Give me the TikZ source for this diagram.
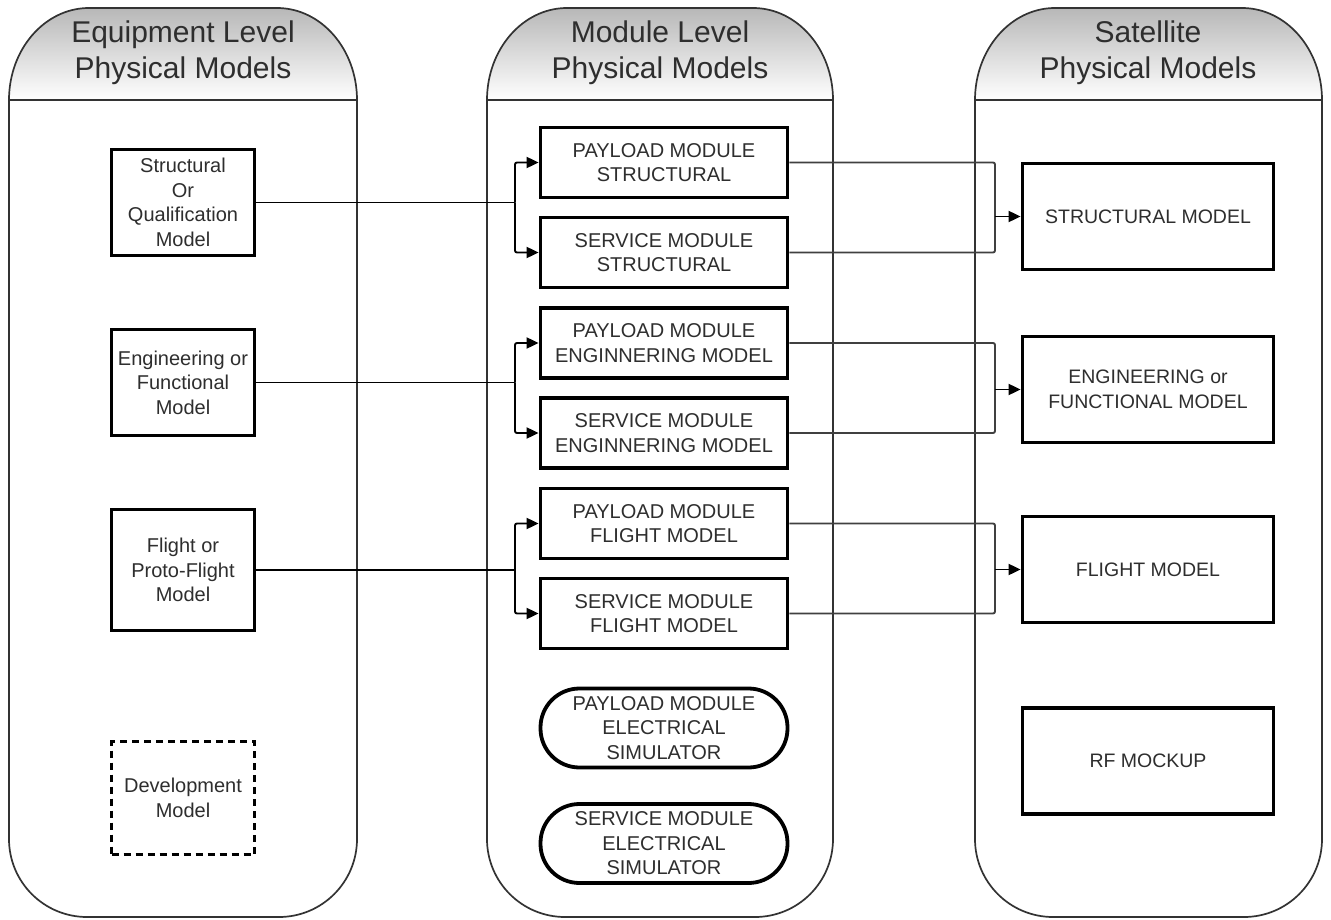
\documentclass[tikz,border=0pt]{standalone}
\usepackage{fontspec}
\setmainfont{Liberation Sans}
\usetikzlibrary{arrows.meta}
\definecolor{txt}{HTML}{2E2E2E}
\definecolor{laneline}{HTML}{333333}
\definecolor{wire}{HTML}{404040}

% a lane: rounded outline, shaded header and a header rule
\newcommand{\lanepath}[2]{%
  (#1,100) arc[start angle=180,end angle=270,x radius=80,y radius=92]
  -- (#2-80,8) arc[start angle=270,end angle=360,x radius=80,y radius=92]
  -- (#2,839) arc[start angle=0,end angle=90,radius=78]
  -- (#1+78,917) arc[start angle=90,end angle=180,radius=78] -- cycle}
\newcommand{\laneheadpath}[2]{%
  (#1,100) arc[start angle=180,end angle=270,x radius=80,y radius=92]
  -- (#2-80,8) arc[start angle=270,end angle=360,x radius=80,y radius=92] -- cycle}

\begin{document}
\begin{tikzpicture}[x=1pt,y=-1pt,
  lanetitle/.style={align=center,text=txt,font=\fontsize{30}{36}\selectfont,inner sep=0pt},
  lanestroke/.style={draw=laneline,line width=1.7pt},
  box/.style={draw=black,fill=white,line width=3.8pt,align=center,text=txt,
    font=\fontsize{20}{24.5}\selectfont,inner sep=0pt},
  eqbox/.style={box,minimum width=143pt,minimum height=106pt},
  modbox/.style={box,minimum width=247pt,minimum height=70pt},
  satbox/.style={box,minimum width=251pt,minimum height=106pt,font=\fontsize{19.5}{24.5}\selectfont},
  devbox/.style={eqbox,dash pattern=on 7pt off 5pt,minimum height=113pt},
  simbox/.style={modbox,rounded corners=39pt,minimum height=79pt},
  conn/.style={draw=black,line width=1.9pt,rounded corners=2pt},
  rconn/.style={draw=wire,line width=1.9pt,rounded corners=2pt},
  tip/.style={-{Triangle[length=12pt,width=11pt]}}]

\useasboundingbox (0,0) rectangle (1331,920);

% lanes
\foreach \xa/\xb in {9/357, 487/833, 975/1322}{
  \fill[white] \lanepath{\xa}{\xb};
  \shade[top color=black!28,bottom color=white] \laneheadpath{\xa}{\xb};
  \draw[lanestroke] \lanepath{\xa}{\xb};
  \draw[lanestroke] (\xa,100) -- (\xb,100);
}
\node[lanetitle] (t1) at (183,53) {Equipment Level\\Physical Models};
\node[lanetitle] (t2) at (660,53) {Module Level\\Physical Models};
\node[lanetitle] (t3) at (1148,53) {Satellite\\Physical Models};

% equipment level
\node[eqbox] (eqsq) at (183,202.5) {Structural\\Or\\Qualification\\Model};
\node[eqbox] (eqef) at (183,382.5) {Engineering or\\Functional\\Model};
\node[eqbox,minimum height=121pt] (eqfp) at (183,570) {Flight or\\Proto-Flight\\Model};
\node[devbox] (eqdev) at (183,798) {Development\\Model};

% module level
\node[modbox] (psm) at (664,162.5) {PAYLOAD MODULE\\STRUCTURAL};
\node[modbox] (ssm) at (664,252.5) {SERVICE MODULE\\STRUCTURAL};
\node[modbox] (pem) at (664,343) {PAYLOAD MODULE\\ENGINNERING MODEL};
\node[modbox] (sem) at (664,433) {SERVICE MODULE\\ENGINNERING MODEL};
\node[modbox] (pfm) at (664,523.5) {PAYLOAD MODULE\\FLIGHT MODEL};
\node[modbox] (sfm) at (664,613.5) {SERVICE MODULE\\FLIGHT MODEL};
\node[simbox] (pes) at (664,728) {PAYLOAD MODULE\\ELECTRICAL\\SIMULATOR};
\node[simbox] (ses) at (664,843.5) {SERVICE MODULE\\ELECTRICAL\\SIMULATOR};

% satellite level
\node[satbox] (smod) at (1148,216.5) {STRUCTURAL MODEL};
\node[satbox] (emod) at (1148,389.5) {ENGINEERING or\\FUNCTIONAL MODEL};
\node[satbox] (fmod) at (1148,569.5) {FLIGHT MODEL};
\node[satbox] (rfm) at (1148,761) {RF MOCKUP};

% branch points
\coordinate (jl1) at (515,202.5);
\coordinate (jl2) at (515,382.5);
\coordinate (jl3) at (515,570);
\coordinate (jr1) at (995,216.5);
\coordinate (jr2) at (995,389.5);
\coordinate (jr3) at (995,569.5);

% equipment -> module
\foreach \src/\j/\a/\b in {eqsq/jl1/psm/ssm, eqef/jl2/pem/sem, eqfp/jl3/pfm/sfm}{
  \draw[conn] (\src.east) -- (\j);
  \draw[conn,tip] (\j) |- (\a.west);
  \draw[conn,tip] (\j) |- (\b.west);
}
% module -> satellite
\foreach \a/\b/\j/\dst in {psm/ssm/jr1/smod, pem/sem/jr2/emod, pfm/sfm/jr3/fmod}{
  \draw[rconn] (\a.east) -| (\j) |- (\b.east);
  \draw[conn,tip] (\j) -- (\dst.west);
}
\end{tikzpicture}
\end{document}
